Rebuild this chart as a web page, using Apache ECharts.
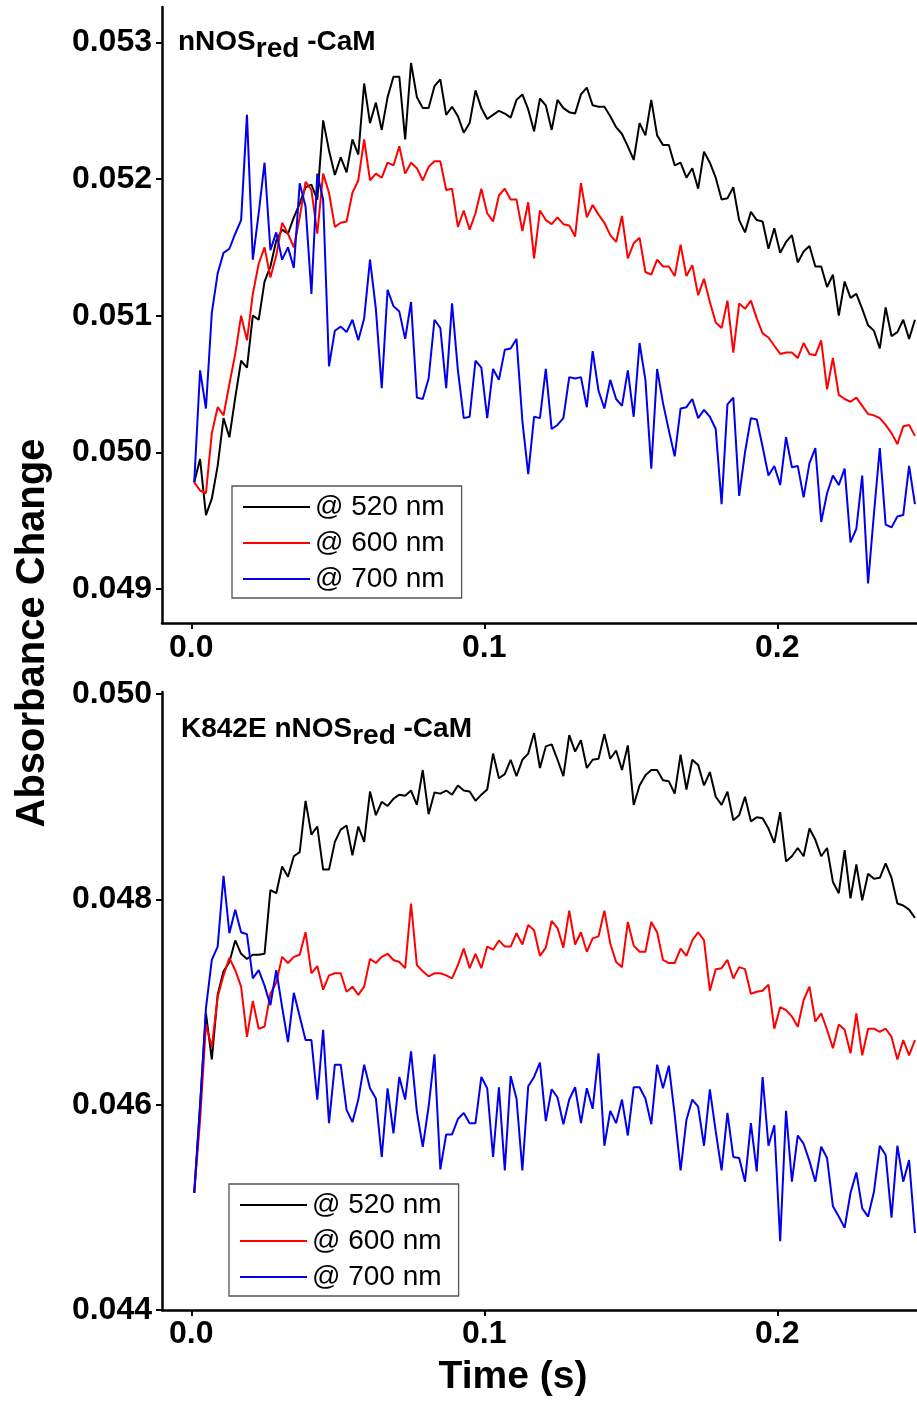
<!DOCTYPE html>
<html>
<head>
<meta charset="utf-8">
<script src="https://cdn.jsdelivr.net/npm/echarts@6/dist/echarts.min.js"></script>
<style>
html,body{margin:0;padding:0;background:#fff;overflow:hidden;}
#chart{width:917px;height:1402px;}
</style>
</head>
<body>
<div id="chart"></div>
<script>
// ---- data (time in s, absorbance change) ----
const TIME_S = [
0.001,0.003,0.005,0.007,0.009,0.011,0.013,0.015,0.017,0.019,
0.021,0.023,0.025,0.027,0.029,0.031,0.033,0.035,0.037,0.039,
0.041,0.043,0.045,0.047,0.049,0.051,0.053,0.055,0.057,0.059,
0.061,0.063,0.065,0.067,0.069,0.071,0.073,0.075,0.077,0.079,
0.081,0.083,0.085,0.087,0.089,0.091,0.093,0.095,0.097,0.099,
0.101,0.103,0.105,0.107,0.109,0.111,0.113,0.115,0.117,0.119,
0.121,0.123,0.125,0.127,0.129,0.131,0.133,0.135,0.137,0.139,
0.141,0.143,0.145,0.147,0.149,0.151,0.153,0.155,0.157,0.159,
0.161,0.163,0.165,0.167,0.169,0.171,0.173,0.175,0.177,0.179,
0.181,0.183,0.185,0.187,0.189,0.191,0.193,0.195,0.197,0.199,
0.201,0.203,0.205,0.207,0.209,0.211,0.213,0.215,0.217,0.219,
0.221,0.223,0.225,0.227,0.229,0.231,0.233,0.235,0.237,0.239,
0.241,0.243,0.245,0.247];

const SERIES_NAMES = ['@ 520 nm', '@ 600 nm', '@ 700 nm'];

// Top panel: nNOSred -CaM
const TOP_520 = [
0.04978,0.04995,0.04954,0.04966,0.04990,0.05025,0.05011,0.05040,0.05067,0.05062,
0.05100,0.05097,0.05125,0.05136,0.05155,0.05163,0.05160,0.05172,0.05182,0.05194,
0.05196,0.05185,0.05243,0.05221,0.05203,0.05216,0.05205,0.05229,0.05218,0.05270,
0.05241,0.05256,0.05236,0.05260,0.05275,0.05275,0.05229,0.05285,0.05260,0.05252,
0.05252,0.05268,0.05273,0.05247,0.05253,0.05246,0.05234,0.05241,0.05265,0.05252,
0.05244,0.05247,0.05250,0.05248,0.05245,0.05258,0.05262,0.05251,0.05235,0.05259,
0.05254,0.05236,0.05258,0.05252,0.05249,0.05248,0.05262,0.05267,0.05254,0.05253,
0.05253,0.05246,0.05238,0.05233,0.05224,0.05214,0.05241,0.05232,0.05258,0.05232,
0.05225,0.05225,0.05210,0.05212,0.05201,0.05208,0.05193,0.05220,0.05212,0.05201,
0.05185,0.05186,0.05194,0.05170,0.05161,0.05176,0.05170,0.05169,0.05149,0.05164,
0.05146,0.05154,0.05159,0.05139,0.05147,0.05151,0.05136,0.05136,0.05121,0.05130,
0.05100,0.05125,0.05113,0.05116,0.05105,0.05093,0.05089,0.05076,0.05106,0.05085,
0.05088,0.05097,0.05083,0.05097];

const TOP_600 = [
0.04978,0.04972,0.04970,0.05014,0.05033,0.05027,0.05050,0.05072,0.05100,0.05082,
0.05116,0.05138,0.05150,0.05128,0.05144,0.05168,0.05160,0.05150,0.05172,0.05198,
0.05192,0.05160,0.05204,0.05190,0.05165,0.05168,0.05169,0.05190,0.05199,0.05229,
0.05199,0.05204,0.05201,0.05212,0.05210,0.05224,0.05204,0.05212,0.05208,0.05199,
0.05209,0.05213,0.05213,0.05192,0.05193,0.05165,0.05177,0.05163,0.05175,0.05193,
0.05175,0.05169,0.05188,0.05193,0.05185,0.05185,0.05162,0.05183,0.05142,0.05177,
0.05170,0.05167,0.05172,0.05167,0.05166,0.05158,0.05197,0.05172,0.05181,0.05174,
0.05168,0.05159,0.05154,0.05173,0.05142,0.05153,0.05157,0.05132,0.05130,0.05141,
0.05136,0.05136,0.05129,0.05152,0.05129,0.05137,0.05115,0.05127,0.05110,0.05095,
0.05091,0.05111,0.05073,0.05109,0.05105,0.05111,0.05098,0.05087,0.05084,0.05078,
0.05072,0.05073,0.05073,0.05069,0.05080,0.05072,0.05071,0.05082,0.05046,0.05069,
0.05042,0.05039,0.05037,0.05040,0.05034,0.05028,0.05027,0.05025,0.05020,0.05014,
0.05006,0.05019,0.05020,0.05012];

const TOP_700 = [
0.04978,0.05060,0.05032,0.05102,0.05131,0.05146,0.05149,0.05160,0.05170,0.05247,
0.05141,0.05175,0.05212,0.05148,0.05161,0.05141,0.05150,0.05135,0.05197,0.05180,
0.05116,0.05204,0.05185,0.05063,0.05089,0.05092,0.05088,0.05097,0.05082,0.05098,
0.05141,0.05105,0.05047,0.05119,0.05107,0.05103,0.05083,0.05110,0.05040,0.05039,
0.05054,0.05097,0.05091,0.05047,0.05109,0.05060,0.05025,0.05026,0.05067,0.05062,
0.05025,0.05061,0.05053,0.05075,0.05076,0.05083,0.05023,0.04984,0.05026,0.05025,
0.05061,0.05017,0.05020,0.05025,0.05055,0.05054,0.05055,0.05033,0.05074,0.05045,
0.05032,0.05053,0.05039,0.05034,0.05060,0.05026,0.05080,0.05053,0.04988,0.05061,
0.05036,0.05016,0.04997,0.05032,0.05033,0.05039,0.05025,0.05031,0.05026,0.05017,
0.04962,0.05035,0.05040,0.04968,0.05000,0.05025,0.05024,0.05004,0.04983,0.04990,
0.04976,0.05011,0.04989,0.04990,0.04967,0.04992,0.05003,0.04949,0.04970,0.04983,
0.04976,0.04988,0.04934,0.04944,0.04983,0.04904,0.04955,0.05003,0.04947,0.04945,
0.04953,0.04954,0.04990,0.04962];

// Bottom panel: K842E nNOSred -CaM
const BOT_520 = [
0.04514,0.04600,0.04689,0.04644,0.04707,0.04730,0.04739,0.04760,0.04747,0.04742,
0.04746,0.04746,0.04747,0.04809,0.04806,0.04832,0.04822,0.04842,0.04846,0.04896,
0.04863,0.04871,0.04829,0.04829,0.04856,0.04868,0.04872,0.04843,0.04871,0.04856,
0.04905,0.04882,0.04895,0.04891,0.04898,0.04902,0.04901,0.04906,0.04892,0.04926,
0.04883,0.04904,0.04903,0.04906,0.04902,0.04911,0.04906,0.04905,0.04896,0.04902,
0.04907,0.04942,0.04918,0.04922,0.04936,0.04920,0.04936,0.04942,0.04962,0.04928,
0.04949,0.04951,0.04936,0.04920,0.04960,0.04944,0.04955,0.04928,0.04936,0.04937,
0.04961,0.04937,0.04945,0.04926,0.04950,0.04892,0.04911,0.04921,0.04926,0.04926,
0.04916,0.04915,0.04903,0.04941,0.04907,0.04936,0.04931,0.04911,0.04924,0.04900,
0.04892,0.04905,0.04877,0.04882,0.04900,0.04876,0.04880,0.04879,0.04869,0.04855,
0.04885,0.04837,0.04842,0.04850,0.04842,0.04869,0.04858,0.04842,0.04850,0.04817,
0.04806,0.04848,0.04801,0.04834,0.04799,0.04825,0.04820,0.04821,0.04835,0.04821,
0.04796,0.04794,0.04790,0.04782];

const BOT_600 = [
0.04514,0.04585,0.04678,0.04656,0.04705,0.04726,0.04743,0.04731,0.04715,0.04666,
0.04701,0.04674,0.04676,0.04708,0.04719,0.04744,0.04738,0.04744,0.04746,0.04768,
0.04728,0.04735,0.04712,0.04726,0.04728,0.04728,0.04710,0.04715,0.04707,0.04715,
0.04742,0.04738,0.04744,0.04747,0.04741,0.04739,0.04733,0.04796,0.04736,0.04730,
0.04725,0.04728,0.04728,0.04726,0.04723,0.04736,0.04752,0.04733,0.04747,0.04733,
0.04754,0.04751,0.04760,0.04754,0.04754,0.04767,0.04756,0.04775,0.04770,0.04745,
0.04753,0.04779,0.04772,0.04753,0.04789,0.04756,0.04768,0.04749,0.04762,0.04764,
0.04789,0.04757,0.04739,0.04734,0.04778,0.04755,0.04749,0.04749,0.04778,0.04768,
0.04741,0.04738,0.04738,0.04752,0.04745,0.04760,0.04768,0.04760,0.04711,0.04732,
0.04733,0.04741,0.04723,0.04734,0.04732,0.04708,0.04710,0.04711,0.04717,0.04674,
0.04695,0.04692,0.04686,0.04676,0.04702,0.04715,0.04681,0.04689,0.04673,0.04655,
0.04678,0.04673,0.04650,0.04689,0.04648,0.04674,0.04674,0.04671,0.04674,0.04666,
0.04644,0.04663,0.04648,0.04663];

const BOT_700 = [
0.04514,0.04598,0.04694,0.04741,0.04754,0.04823,0.04767,0.04790,0.04768,0.04766,
0.04723,0.04731,0.04716,0.04697,0.04731,0.04695,0.04661,0.04709,0.04686,0.04663,
0.04663,0.04605,0.04673,0.04582,0.04639,0.04639,0.04595,0.04583,0.04605,0.04639,
0.04616,0.04606,0.04549,0.04616,0.04572,0.04627,0.04605,0.04652,0.04593,0.04559,
0.04598,0.04649,0.04537,0.04571,0.04571,0.04586,0.04592,0.04582,0.04582,0.04627,
0.04616,0.04549,0.04617,0.04536,0.04628,0.04606,0.04536,0.04618,0.04627,0.04641,
0.04584,0.04615,0.04607,0.04581,0.04605,0.04617,0.04582,0.04616,0.04596,0.04650,
0.04560,0.04594,0.04582,0.04605,0.04570,0.04617,0.04617,0.04606,0.04581,0.04639,
0.04616,0.04638,0.04590,0.04536,0.04585,0.04605,0.04598,0.04560,0.04615,0.04574,
0.04536,0.04592,0.04549,0.04548,0.04525,0.04582,0.04535,0.04627,0.04560,0.04580,
0.04467,0.04594,0.04525,0.04570,0.04562,0.04545,0.04525,0.04559,0.04548,0.04501,
0.04491,0.04480,0.04514,0.04534,0.04499,0.04491,0.04515,0.04560,0.04551,0.04490,
0.04560,0.04525,0.04546,0.04475];

const TOP_Y_TICKS = [0.049, 0.050, 0.051, 0.052, 0.053];
const BOT_Y_TICKS = [0.044, 0.046, 0.048, 0.050];
const X_TICKS = [0.0, 0.1, 0.2];

const COLORS = ['#000000', '#ff0000', '#0000ee'];
const FONT = '"Liberation Sans", Arial, Helvetica, sans-serif';

// ---- chart ----
const chart = echarts.init(document.getElementById('chart'), null, {renderer: 'canvas'});

function xAxisCfg(gridIndex, margin) {
  return {
    type: 'value', gridIndex: gridIndex,
    min: -0.01, max: 0.2477,
    axisLine: {show: true, onZero: false, lineStyle: {color: '#000', width: 2.5}},
    axisTick: {show: true, length: 6, lineStyle: {color: '#000', width: 2}, customValues: X_TICKS},
    axisLabel: {show: true, customValues: X_TICKS, margin: margin, color: '#000',
      fontFamily: FONT, fontWeight: 'bold', fontSize: 32,
      formatter: v => Number(v).toFixed(1)},
    splitLine: {show: false}
  };
}
function yAxisCfg(gridIndex, min, max, ticks) {
  return {
    type: 'value', gridIndex: gridIndex, min: min, max: max,
    axisLine: {show: true, onZero: false, lineStyle: {color: '#000', width: 2.5}},
    axisTick: {show: true, length: 6, lineStyle: {color: '#000', width: 2}, customValues: ticks},
    axisLabel: {show: true, customValues: ticks, margin: 10, color: '#000',
      fontFamily: FONT, fontWeight: 'bold', fontSize: 32,
      formatter: v => Number(v).toFixed(3)},
    splitLine: {show: false}
  };
}

function pairs(values) { return TIME_S.map((t, i) => [t, values[i]]); }

function lineSeries(name, values, idx, color) {
  return {
    type: 'line', name: name, xAxisIndex: idx, yAxisIndex: idx,
    data: pairs(values), showSymbol: false, symbol: 'none',
    lineStyle: {color: color, width: 2}, itemStyle: {color: color},
    animation: false, clip: true, z: 3
  };
}

function legendCfg(left, top) {
  return {
    show: true, orient: 'vertical', left: left, top: top,
    data: SERIES_NAMES, icon: 'rect', itemWidth: 67, itemHeight: 2, itemGap: 8,
    padding: [7, 17, 5, 11],
    borderColor: '#555', borderWidth: 1.3, backgroundColor: '#fff',
    textStyle: {fontFamily: FONT, fontSize: 28, color: '#000'},
    selectedMode: false, z: 10
  };
}

const titleRich = {
  a: {fontFamily: FONT, fontWeight: 'bold', fontSize: 28, lineHeight: 28, verticalAlign: 'top', fill: '#000'},
  b: {fontFamily: FONT, fontWeight: 'bold', fontSize: 28, lineHeight: 42, verticalAlign: 'middle', fill: '#000'}
};

const option = {
  backgroundColor: '#ffffff',
  animation: false,
  grid: [
    {left: 162, top: 7, width: 755, height: 616, containLabel: false, outerBoundsMode: 'none'},
    {left: 162, top: 692, width: 755, height: 618, containLabel: false, outerBoundsMode: 'none'}
  ],
  xAxis: [xAxisCfg(0, 9), xAxisCfg(1, 8)],
  yAxis: [
    yAxisCfg(0, 0.04875, 0.05326, TOP_Y_TICKS),
    yAxisCfg(1, 0.044, 0.05002, BOT_Y_TICKS)
  ],
  legend: [legendCfg(232, 486), legendCfg(229, 1184)],
  series: [
    lineSeries(SERIES_NAMES[0], TOP_520, 0, COLORS[0]),
    lineSeries(SERIES_NAMES[1], TOP_600, 0, COLORS[1]),
    lineSeries(SERIES_NAMES[2], TOP_700, 0, COLORS[2]),
    lineSeries(SERIES_NAMES[0], BOT_520, 1, COLORS[0]),
    lineSeries(SERIES_NAMES[1], BOT_600, 1, COLORS[1]),
    lineSeries(SERIES_NAMES[2], BOT_700, 1, COLORS[2])
  ],
  graphic: [
    {type: 'text', x: 33, y: 633, rotation: Math.PI / 2, z: 20,
      style: {text: 'Absorbance Change', fontFamily: FONT, fontWeight: 'bold', fontSize: 40,
        fill: '#000', align: 'center', verticalAlign: 'middle'}},
    {type: 'text', x: 513, y: 1377, z: 20,
      style: {text: 'Time (s)', fontFamily: FONT, fontWeight: 'bold', fontSize: 39,
        fill: '#000', align: 'center', verticalAlign: 'middle'}},
    {type: 'text', x: 178, y: 28, z: 20,
      style: {text: '{a|nNOS}{b|red}{a| -CaM}', rich: titleRich, align: 'left', verticalAlign: 'top'}},
    {type: 'text', x: 181, y: 715, z: 20,
      style: {text: '{a|K842E nNOS}{b|red}{a| -CaM}', rich: titleRich, align: 'left', verticalAlign: 'top'}}
  ]
};

chart.setOption(option);
</script>
</body>
</html>
